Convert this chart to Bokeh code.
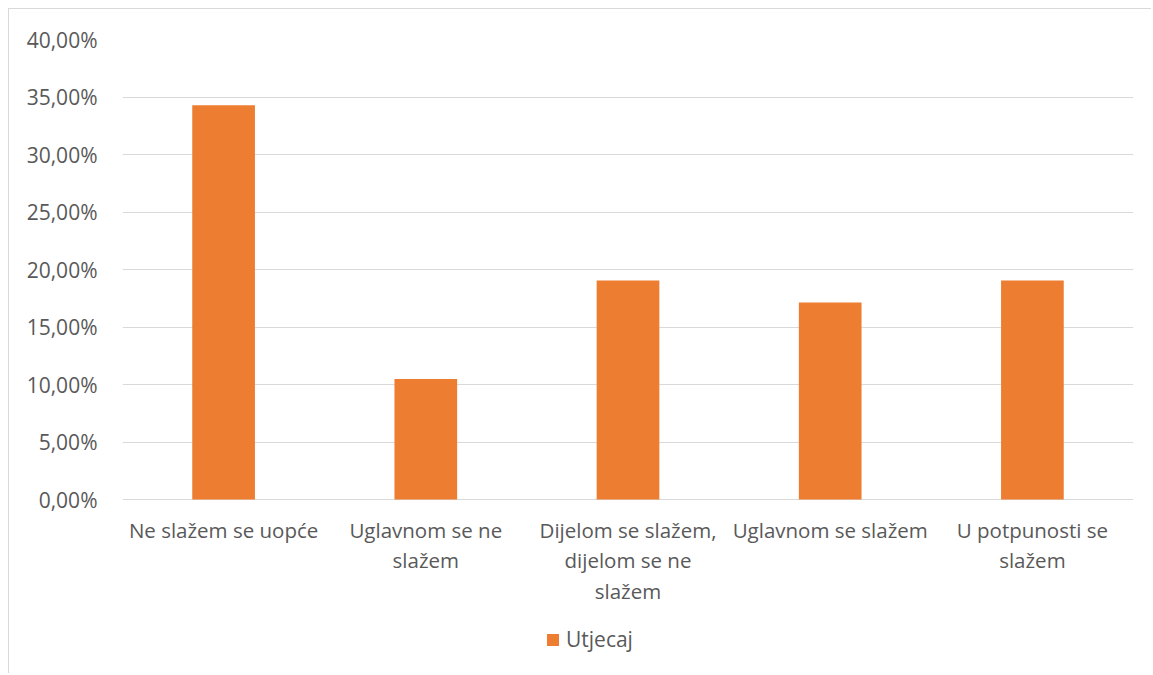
from bokeh.plotting import figure
from bokeh.models import ColumnDataSource, FixedTicker, CustomJSTickFormatter, Legend, LegendItem, Range1d
from bokeh.core.properties import value
from bokeh.embed import file_html
from bokeh.resources import INLINE

categories = ["Ne slažem se uopće", "Uglavnom se ne\nslažem", "Dijelom se slažem,\ndijelom se ne\nslažem",
              "Uglavnom se slažem", "U potpunosti se\nslažem"]
values = [34.29, 10.48, 19.05, 17.14, 19.05]
series_name = "Utjecaj"
y_ticks = [0, 5, 10, 15, 20, 25, 30, 35, 40]

FONT = "Open Sans"
TXT = "#595959"
GRID = "#d9d9d9"
BAR = "#ED7D31"

# frame: 0% at 499px, 40% at 39px (11.5 px per unit); frame extends down to leave room for labels/legend
PX_PER_UNIT = 11.5
FRAME_TOP, FRAME_BOTTOM = 39, 669
y_start = 40 - (FRAME_BOTTOM - FRAME_TOP) / PX_PER_UNIT

src = ColumnDataSource(data=dict(cat=categories, val=values))
lab = ColumnDataSource(data=dict(cat=categories, y=[-1.45] * len(categories)))

p = figure(x_range=categories, y_range=Range1d(y_start, 40), width=1143, height=665,
           output_backend="svg", toolbar_location=None, x_axis_location=None,
           min_border_left=113, min_border_right=19, min_border_top=30, min_border_bottom=5)
p.styles = {"margin-left": "8px", "margin-top": "8px",
            "border-left": "1px solid #d9d9d9", "border-top": "1px solid #d9d9d9"}

r = p.vbar(x="cat", top="val", width=0.31, source=src, color=BAR, line_color=None)

p.text(x="cat", y="y", text="cat", source=lab, text_align="center", text_baseline="top",
       text_font=value(FONT), text_font_size="20.5px", text_color=TXT, text_line_height=1.08)

p.outline_line_color = None
p.background_fill_color = None
p.xgrid.grid_line_color = None
p.ygrid.grid_line_color = GRID
p.ygrid.grid_line_width = 1
p.ygrid.ticker = FixedTicker(ticks=y_ticks)

p.yaxis.ticker = FixedTicker(ticks=y_ticks)
p.yaxis.formatter = CustomJSTickFormatter(code="return tick.toFixed(2).replace('.', ',') + '%';")
p.yaxis.axis_line_color = None
p.yaxis.major_tick_line_color = None
p.yaxis.minor_tick_line_color = None
p.yaxis.major_label_text_font = FONT
p.yaxis.major_label_text_font_size = "21px"
p.yaxis.major_label_text_color = TXT
p.yaxis.major_label_standoff = 19

legend = Legend(items=[LegendItem(label=series_name, renderers=[r])],
                location=(423, 16), orientation="horizontal",
                border_line_color=None, background_fill_alpha=0,
                padding=0, margin=0, glyph_width=15, glyph_height=15, label_standoff=6,
                label_text_font=FONT, label_text_font_size="21px", label_text_color=TXT)
p.add_layout(legend, "center")

open("out.html", "w").write(file_html(p, INLINE))
